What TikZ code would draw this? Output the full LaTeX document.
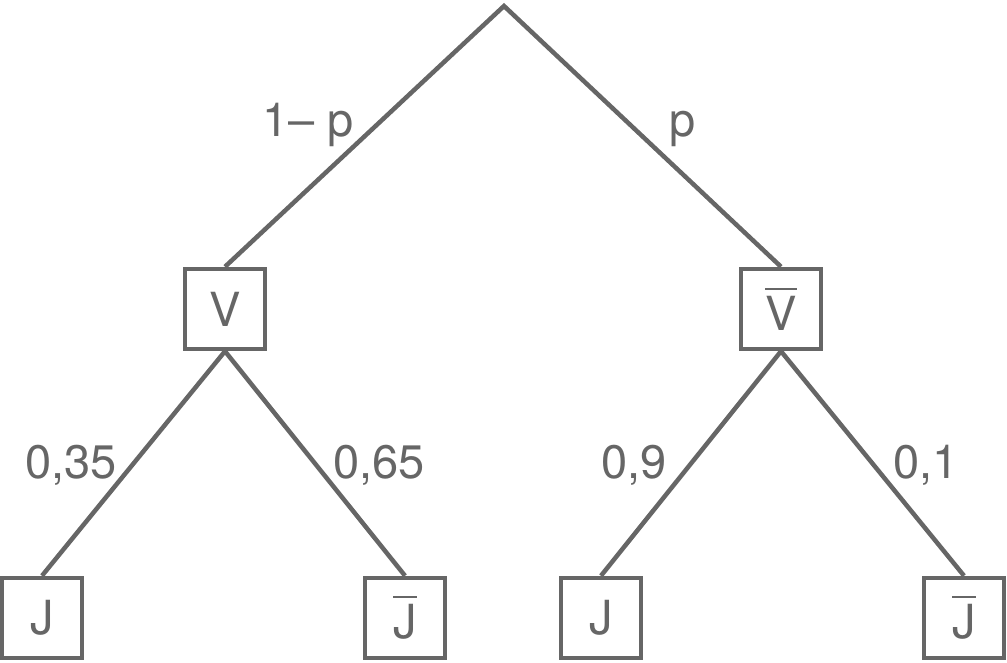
\documentclass[tikz,border=0pt]{standalone}
\usepackage{fontspec}
\setmainfont{TeX Gyre Heros}
\usepackage{xcolor}
\usetikzlibrary{positioning}
\definecolor{mygray}{HTML}{666666}
\newcommand{\barred}[1]{\setbox0\hbox{#1}\rlap{\rule[\dimexpr\ht0+6pt\relax]{\wd0}{2pt}}\box0}

\begin{document}
\begin{tikzpicture}[x=1pt,y=-1pt,
every node/.style={mygray,font=\fontsize{47}{56}\selectfont},
box/.style={draw=mygray,line width=4.5pt,minimum size=80pt,inner sep=0pt},
branch/.style={draw=mygray,line width=4.5pt}]
\useasboundingbox (0,0) rectangle (1007,662);
\coordinate (root) at (504,6);
\node[box] (V) at (225,309) {V};
\node[box] (nV) at (781,309) {\barred{V}};
\node[box] (VJ) at (42,618) {J};
\node[box] (VnJ) at (405,618) {\barred{J}};
\node[box] (nVJ) at (601,618) {J};
\node[box] (nVnJ) at (964,618) {\barred{J}};
\draw[branch] (V.north) -- (root) -- (nV.north);
\draw[branch] (VJ.north) -- (V.south) -- (VnJ.north);
\draw[branch] (nVJ.north) -- (nV.south) -- (nVnJ.north);
% probabilities
\node[anchor=base] at (308,136) {1– p};
\node[anchor=base] at (683,136) {p};
\node[anchor=base] at (71,478) {0,35};
\node[anchor=base] at (379,478) {0,65};
\node[anchor=base] at (634,478) {0,9};
\node[anchor=base] at (926,478) {0,1};
\end{tikzpicture}
\end{document}
